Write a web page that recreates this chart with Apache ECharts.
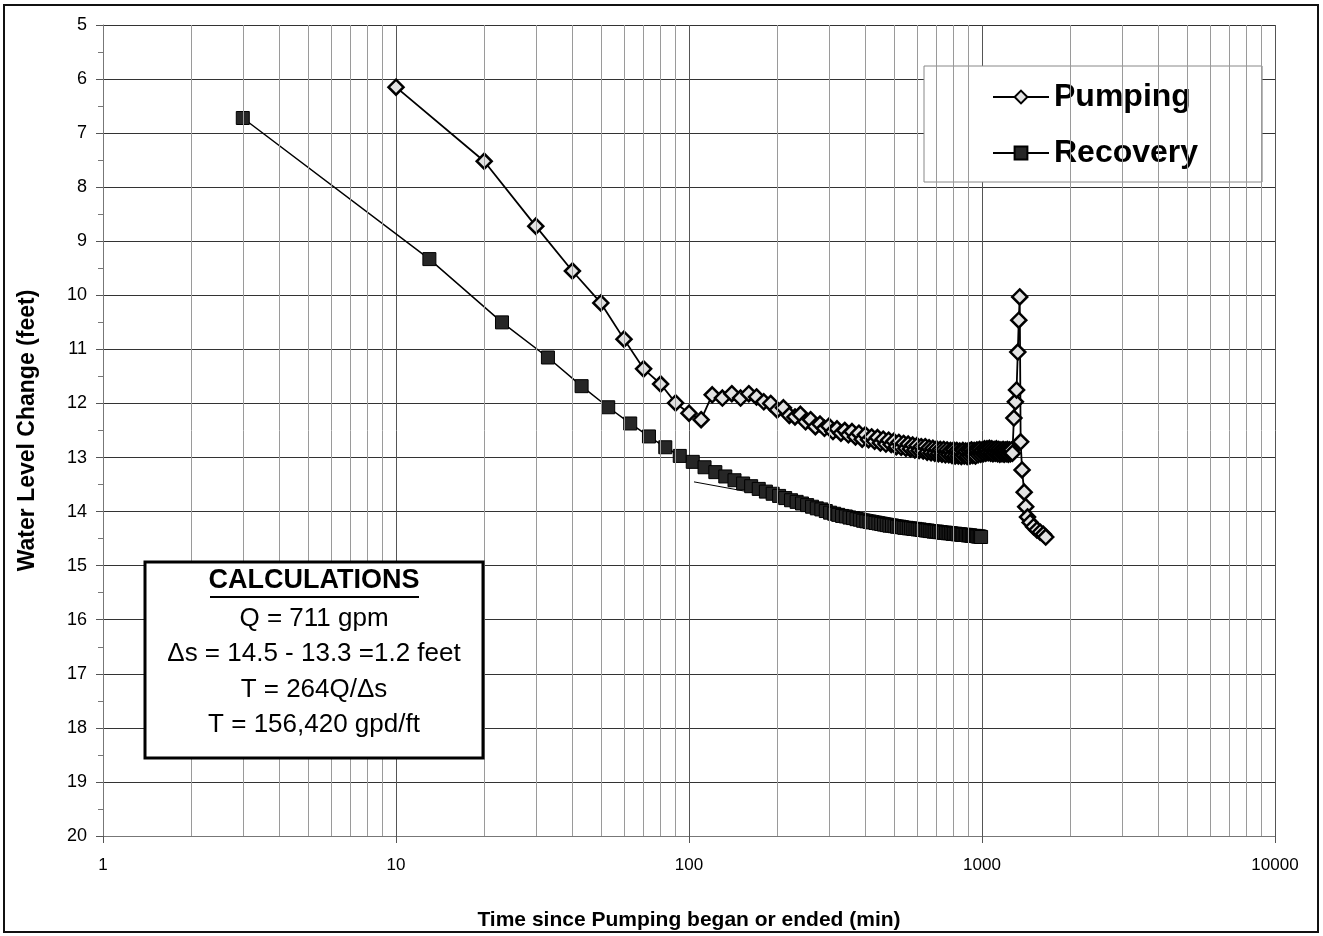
<!DOCTYPE html>
<html>
<head>
<meta charset="utf-8">
<script src="https://cdn.jsdelivr.net/npm/echarts/dist/echarts.min.js"></script>
<style>
html,body{margin:0;padding:0;background:#fff;}
#chart{width:1323px;height:936px;}
</style>
</head>
<body>
<div id="chart"></div>
<script>
// ---------------- DATA ----------------
const xTickLabels = ['1', '10', '100', '1000', '10000'];
const minorGridX = [2,3,4,5,6,7,8,9,20,30,40,50,60,70,80,90,200,300,400,500,600,700,800,900,2000,3000,4000,5000,6000,7000,8000,9000];

const pumpingTime = [10,20,30,40,50,60,70,80,90,100,110,120,130,140,150,160,170,180,190,200,
210,220,230,240,250,260,270,280,290,300,310,320,330,340,350,360,370,380,390,400,
410,420,430,440,450,460,470,480,490,500,510,520,530,540,550,560,570,580,590,600,
610,620,630,640,650,660,670,680,690,700,710,720,730,740,750,760,770,780,790,800,
810,820,830,840,850,860,870,880,890,900,910,920,930,940,950,960,970,980,990,1000,
1010,1020,1030,1040,1050,1060,1070,1080,1090,1100,1110,1120,1130,1140,1150,1160,1170,1180,1190,1200,
1210,1220,1230,1240,1250,1260,1270,
1285,1300,1312,1325,1335,1345,
1355,1370,1393,1410,1430,1460,1500,1540,1580,1620,1650];
const pumpingLevel = [6.15,7.52,8.72,9.55,10.14,10.81,11.36,11.64,11.99,12.18,12.30,11.84,11.90,11.82,11.90,11.82,11.88,11.97,12.00,12.12,
12.08,12.22,12.25,12.20,12.34,12.30,12.43,12.38,12.46,12.42,12.52,12.47,12.55,12.50,12.58,12.52,12.62,12.55,12.66,12.58,
12.67,12.62,12.70,12.63,12.73,12.66,12.75,12.68,12.76,12.70,12.80,12.72,12.81,12.74,12.83,12.75,12.84,12.77,12.86,12.78,
12.87,12.80,12.88,12.80,12.90,12.82,12.91,12.83,12.92,12.84,12.93,12.85,12.94,12.85,12.95,12.86,12.95,12.87,12.96,12.86,
12.97,12.87,12.97,12.88,12.98,12.87,12.97,12.88,12.98,12.87,12.97,12.86,12.96,12.87,12.97,12.86,12.95,12.85,12.94,12.86,
12.93,12.84,12.92,12.84,12.91,12.83,12.92,12.84,12.93,12.85,12.92,12.84,12.93,12.85,12.94,12.86,12.93,12.85,12.94,12.86,
12.93,12.85,12.94,12.86,12.93,12.86,12.92,
12.27,11.97,11.75,11.05,10.46,10.03,
12.71,13.23,13.64,13.91,14.10,14.20,14.28,14.34,14.38,14.42,14.47];

const recoveryTime = [3,13,23,33,43,53,63,73,83,93,103,113,123,133,143,153,163,173,183,193,
203,213,223,233,243,253,263,273,283,293,303,313,323,333,343,353,363,373,383,393,
403,413,423,433,443,453,463,473,483,493,503,513,523,533,543,553,563,573,583,593,
603,613,623,633,643,653,663,673,683,693,703,713,723,733,743,753,763,773,783,793,
803,813,823,833,843,853,863,873,883,893,903,913,923,933,943,953,963,973,983,993];
const recoveryLevel = [6.72,9.33,10.50,11.15,11.68,12.07,12.37,12.61,12.81,12.97,13.08,13.18,13.27,13.35,13.42,13.48,13.53,13.58,13.63,13.67,
13.71,13.75,13.79,13.82,13.85,13.88,13.91,13.94,13.96,13.99,14.02,14.04,14.06,14.08,14.09,14.11,14.12,14.14,14.15,14.17,
14.18,14.19,14.20,14.21,14.22,14.23,14.24,14.25,14.26,14.26,14.27,14.28,14.28,14.29,14.30,14.30,14.31,14.31,14.32,14.32,
14.33,14.33,14.34,14.34,14.35,14.35,14.36,14.36,14.37,14.37,14.37,14.38,14.38,14.39,14.39,14.39,14.40,14.40,14.40,14.41,
14.41,14.41,14.42,14.42,14.42,14.43,14.43,14.43,14.43,14.44,14.44,14.44,14.45,14.45,14.45,14.45,14.46,14.46,14.46,14.47];

// straight-line fit drawn through the recovery data
const recoveryFitTime = [104, 1010];
const recoveryFitLevel = [13.45, 14.43];

const calcLines = ['Q = 711 gpm', '\u0394s = 14.5 - 13.3 =1.2 feet', 'T = 264Q/\u0394s', 'T = 156,420 gpd/ft'];

// ---------------- CHART ----------------
const pair = (xs, ys) => xs.map((x, i) => [x, ys[i]]);
const FONT = 'Arial, "Liberation Sans", Helvetica, sans-serif';

const chart = echarts.init(document.getElementById('chart'), null, {renderer: 'canvas'});

const calcGraphics = [
  {type: 'rect', shape: {x: 145, y: 562, width: 338, height: 196}, style: {fill: '#fff', stroke: '#000', lineWidth: 3}, z: 100},
  {type: 'text', x: 314, y: 581, style: {text: 'CALCULATIONS', font: 'bold 27px ' + FONT, fill: '#000', align: 'center', verticalAlign: 'middle'}, z: 101},
  {type: 'line', shape: {x1: 210, y1: 597, x2: 419, y2: 597}, style: {stroke: '#000', lineWidth: 2}, z: 101}
];
const calcY = [619, 654, 690, 725];
calcLines.forEach((t, i) => {
  calcGraphics.push({type: 'text', x: 314, y: calcY[i], style: {text: t, font: '26px ' + FONT, fill: '#000', align: 'center', verticalAlign: 'middle'}, z: 101});
});

const option = {
  animation: false,
  backgroundColor: '#fff',
  grid: {left: 103, right: 48, top: 25, bottom: 100, containLabel: false},
  legend: {
    data: ['Pumping', 'Recovery'],
    orient: 'vertical',
    left: 924, top: 66,
    backgroundColor: '#fff',
    borderColor: '#888', borderWidth: 1,
    padding: [15, 64, 13, 68],
    itemGap: 24,
    itemWidth: 56, itemHeight: 16,
    textStyle: {fontSize: 32, fontWeight: 'bold', fontFamily: FONT, color: '#000'}
  },
  xAxis: {
    type: 'log', logBase: 10, min: 1, max: 10000,
    name: 'Time since Pumping began or ended (min)',
    nameLocation: 'middle', nameGap: 74,
    nameTextStyle: {fontSize: 21, fontWeight: 'bold', fontFamily: FONT, color: '#000'},
    axisLine: {show: true, onZero: false, lineStyle: {color: '#777', width: 1}},
    axisTick: {show: true, length: 7, lineStyle: {color: '#555'}},
    axisLabel: {fontSize: 17, fontFamily: FONT, color: '#000', margin: 21,
      formatter: (v) => xTickLabels[Math.round(Math.log10(v))] || ''},
    splitLine: {show: true, lineStyle: {color: '#555', width: 1}}
  },
  yAxis: {
    type: 'value', inverse: true, min: 5, max: 20, interval: 1,
    name: 'Water Level Change (feet)',
    nameLocation: 'middle', nameGap: 64,
    nameTextStyle: {fontSize: 23, fontWeight: 'bold', fontFamily: FONT, color: '#000'},
    axisLine: {show: true, lineStyle: {color: '#777', width: 1}},
    axisTick: {show: true, length: 7, lineStyle: {color: '#555'}},
    minorTick: {show: true, splitNumber: 2, length: 5, lineStyle: {color: '#777'}},
    axisLabel: {fontSize: 18, fontFamily: FONT, color: '#000', margin: 16},
    splitLine: {show: true, lineStyle: {color: '#333', width: 1}}
  },
  series: [
    {
      name: 'minorGrid', type: 'line', data: [], z: 1, silent: true,
      markLine: {
        silent: true, symbol: ['none', 'none'], animation: false,
        label: {show: false},
        lineStyle: {color: '#9a9a9a', type: 'solid', width: 1},
        emphasis: {disabled: true},
        data: minorGridX.map(v => ({xAxis: v}))
      }
    },
    {
      name: 'fit', type: 'line', z: 2, silent: true,
      data: pair(recoveryFitTime, recoveryFitLevel),
      showSymbol: false, symbol: 'none',
      lineStyle: {color: '#000', width: 1}
    },
    {
      name: 'Recovery', type: 'line', z: 3,
      data: pair(recoveryTime, recoveryLevel),
      symbol: 'rect', symbolSize: 13,
      itemStyle: {color: '#262626', borderColor: '#000', borderWidth: 1},
      lineStyle: {color: '#000', width: 1.5}
    },
    {
      name: 'Pumping', type: 'line', z: 4,
      data: pair(pumpingTime, pumpingLevel),
      symbol: 'diamond', symbolSize: 15,
      itemStyle: {color: '#e2e2e2', borderColor: '#000', borderWidth: 2.5},
      lineStyle: {color: '#000', width: 1.8}
    }
  ],
  graphic: [
    {type: 'rect', shape: {x: 4, y: 5, width: 1314, height: 927}, style: {fill: 'none', stroke: '#111', lineWidth: 2}, z: 100, silent: true}
  ].concat(calcGraphics)
};
chart.setOption(option);
</script>
</body>
</html>
